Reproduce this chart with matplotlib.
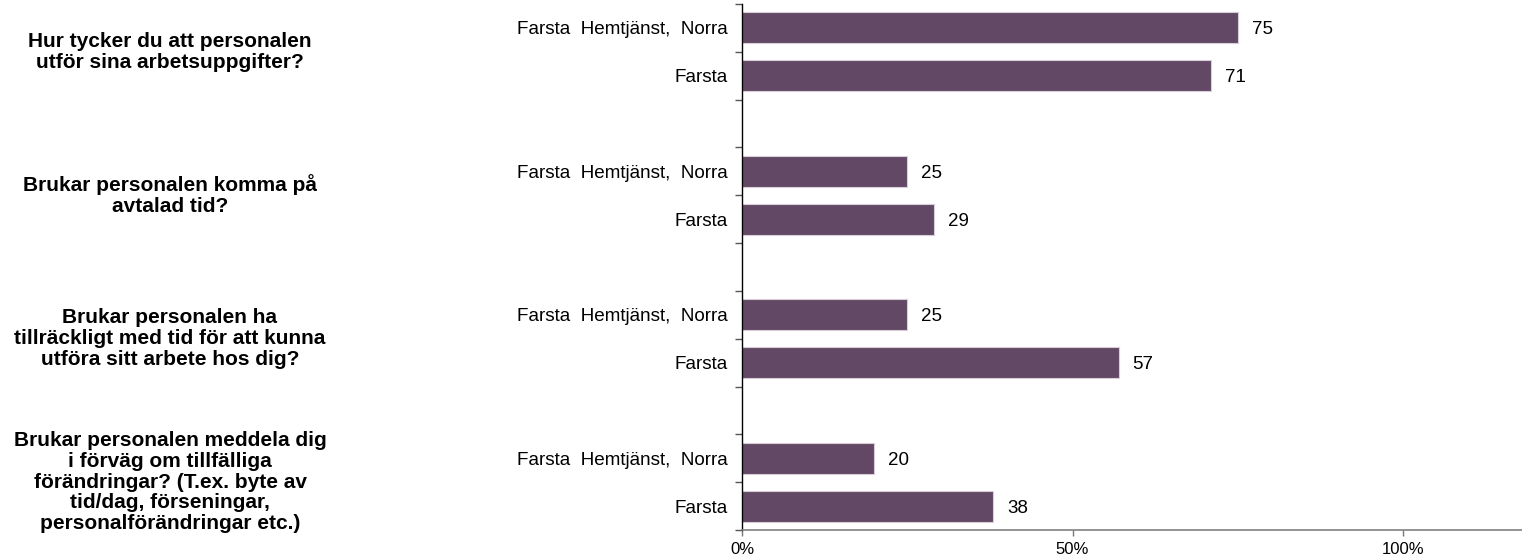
import matplotlib
matplotlib.use("Agg")
import matplotlib.pyplot as plt
from matplotlib.transforms import blended_transform_factory

plt.rcParams['font.family'] = ['Liberation Sans', 'DejaVu Sans']

questions = [
    "Hur tycker du att personalen\nutför sina arbetsuppgifter?",
    "Brukar personalen komma på\navtalad tid?",
    "Brukar personalen ha\ntillräckligt med tid för att kunna\nutföra sitt arbete hos dig?",
    "Brukar personalen meddela dig\ni förväg om tillfälliga\nförändringar? (T.ex. byte av\ntid/dag, förseningar,\npersonalförändringar etc.)",
]
units = ["Farsta  Hemtjänst,  Norra", "Farsta"]
values = [
    [75, 71],
    [25, 29],
    [25, 57],
    [20, 38],
]
xticks = [0, 50, 100]
xticklabels = ["0%", "50%", "100%"]

bar_color = "#624864"

fig = plt.figure(figsize=(15.22, 5.57), dpi=100)
ax = fig.add_axes([742 / 1522, 1 - 530 / 557, 1 - 742 / 1522, 526 / 557])

ypos = []
labels = []
vals = []
group_centers = []
slot = 0
for gi, q in enumerate(questions):
    start = slot
    for ui, u in enumerate(units):
        ypos.append(slot)
        labels.append(u)
        vals.append(values[gi][ui])
        slot += 1
    group_centers.append((start + slot - 1) / 2)
    slot += 1  # blank slot between groups
n_slots = slot - 1

ax.barh(ypos, vals, height=0.65, color=bar_color, edgecolor="#d8cdd8", linewidth=0.8)
for y, v in zip(ypos, vals):
    ax.text(v + 2.1, y, f"{v}", va="center_baseline", ha="left", fontsize=13.5, color="black")

ax.set_ylim(n_slots - 0.5, -0.5)
ax.set_xlim(0, 118)

ax.set_yticks(ypos)
ax.set_yticklabels(labels, fontsize=13.6)
ax.set_yticks([i - 0.5 for i in range(n_slots + 1)], minor=True)
ax.tick_params(axis="y", which="major", length=0, pad=10)
ax.tick_params(axis="y", which="minor", length=5, color="#555555", width=1)

ax.set_xticks(xticks)
ax.set_xticklabels(xticklabels, fontsize=12)
ax.tick_params(axis="x", length=4, color="#777777", width=1, pad=5)

for s in ["top", "right"]:
    ax.spines[s].set_visible(False)
ax.spines["left"].set_color("black")
ax.spines["left"].set_linewidth(1)
ax.spines["bottom"].set_color("#808080")
ax.spines["bottom"].set_linewidth(1.2)

trans = blended_transform_factory(fig.transFigure, ax.transData)
for q, c in zip(questions, group_centers):
    ax.text(170 / 1522, c, q, transform=trans, ha="center", va="center",
            fontsize=15, fontweight="bold", linespacing=1.12, clip_on=False)

fig.savefig("out.png", dpi=100)
